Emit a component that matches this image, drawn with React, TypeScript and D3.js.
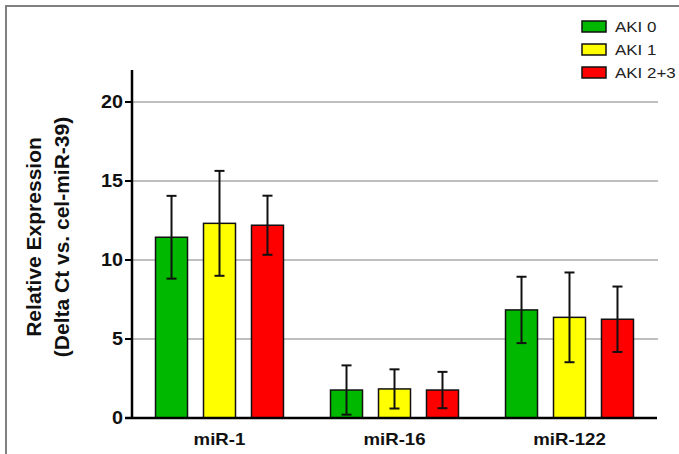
import React from 'react';
import * as d3 from 'd3';

// data
const targets = ['miR-1', 'miR-16', 'miR-122'];
const groups = ['AKI 0', 'AKI 1', 'AKI 2+3'];
const means = [
  [11.44, 12.32, 12.2],
  [1.77, 1.84, 1.77],
  [6.84, 6.37, 6.25],
];
const sds = [
  [2.62, 3.32, 1.87],
  [1.56, 1.24, 1.15],
  [2.1, 2.84, 2.07],
];
const yTicks = [0, 5, 10, 15, 20];
const colors = ['#00b800', '#ffff00', '#ff0000'];

const W = 679, H = 454;
const font = '"Liberation Sans", Arial, sans-serif';
// the original image is a bit stretched sideways
const sx = 1.13;

export default function App() {
  const x0 = d3.scaleBand().domain(targets).range([132, 657]).padding(0);
  const x1 = d3.scaleBand().domain(groups).range([0, x0.bandwidth()])
    .paddingInner(1 / 3).paddingOuter(0.49);
  const y = d3.scaleLinear().domain([0, 20]).range([418, 102]);
  const cap = 5;

  return (
    <svg width={W} height={H} style={{ position: 'absolute', left: 0, top: 0, background: '#fff' }}
      fontFamily={font}>
      {/* frame */}
      <path d={`M6,${H} V6 H${W}`} fill="none" stroke="#808080" strokeWidth={2} />

      {/* gridlines */}
      {yTicks.filter(t => t > 0).map(t => (
        <line key={'g' + t} x1={132} x2={658} y1={y(t)} y2={y(t)} stroke="#aaaaaa" strokeWidth={1.5} />
      ))}

      {/* bars */}
      {targets.map((t, i) => (
        <g key={t} transform={`translate(${x0(t)},0)`}>
          {groups.map((g, j) => {
            const bx = x1(g)!;
            const cx = bx + x1.bandwidth() / 2;
            const m = means[i][j], s = sds[i][j];
            const lo = y(Math.max(0, m - s)), hi = y(m + s);
            return (
              <g key={g}>
                <rect x={bx} y={y(m)} width={x1.bandwidth()} height={y(0) - y(m)}
                  fill={colors[j]} stroke="#111" strokeWidth={1.5} />
                <line x1={cx} x2={cx} y1={hi} y2={lo} stroke="#111" strokeWidth={2} />
                <line x1={cx - cap} x2={cx + cap} y1={hi} y2={hi} stroke="#111" strokeWidth={2} />
                <line x1={cx - cap} x2={cx + cap} y1={lo} y2={lo} stroke="#111" strokeWidth={2} />
              </g>
            );
          })}
        </g>
      ))}

      {/* axes */}
      <line x1={132} x2={132} y1={70} y2={419} stroke="#000" strokeWidth={2.5} />
      <line x1={125} x2={657} y1={418} y2={418} stroke="#000" strokeWidth={2.5} />
      {yTicks.map(t => (
        <g key={'t' + t}>
          <line x1={125} x2={132} y1={y(t)} y2={y(t)} stroke="#000" strokeWidth={2} />
          <text transform={`translate(123,${y(t)}) scale(${sx},1)`} dy="0.36em" textAnchor="end"
            fontSize={17.5} fontWeight="bold" fill="#111">{t}</text>
        </g>
      ))}
      {targets.map(t => (
        <text key={'x' + t} transform={`translate(${x0(t)! + x0.bandwidth() / 2},445) scale(${sx},1)`}
          textAnchor="middle" fontSize={16.5} fontWeight="bold" fill="#111">{t}</text>
      ))}

      {/* y title */}
      <g transform="translate(0,237) rotate(-90)">
        <text x={0} y={34} dy="0.35em" textAnchor="middle" fontSize={21} fontWeight="bold" fill="#111">Relative Expression</text>
        <text x={0} y={62} dy="0.35em" textAnchor="middle" fontSize={21} fontWeight="bold" fill="#111">(Delta Ct vs. cel-miR-39)</text>
      </g>

      {/* legend */}
      {groups.map((g, j) => (
        <g key={'l' + g} transform={`translate(582,${21 + j * 23})`}>
          <rect x={0} y={0} width={24} height={11} fill={colors[j]} stroke="#111" strokeWidth={1.5} />
          <text transform={`translate(33,6) scale(${sx},1)`} dy="0.36em" fontSize={15} fill="#222">{g}</text>
        </g>
      ))}
    </svg>
  );
}
